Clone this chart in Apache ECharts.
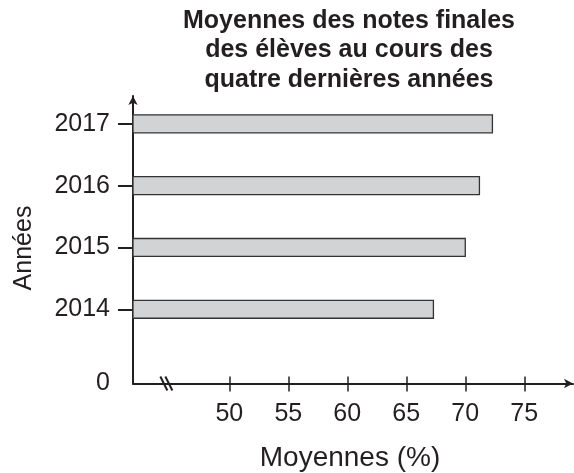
<!DOCTYPE html>
<html>
<head>
<meta charset="utf-8">
<script src="https://cdn.jsdelivr.net/npm/echarts@6/dist/echarts.min.js"></script>
<style>
  html, body { margin: 0; padding: 0; background: #fff; }
  #main { width: 574px; height: 473px; }
</style>
</head>
<body>
<div id="main"></div>
<script>
// données
var years = ['2014', '2015', '2016', '2017'];
var moyennes = [67.3, 70.0, 71.2, 72.3];
var xTicks = [50, 55, 60, 65, 70, 75];

var ink = '#231f20';
var font = 'Liberation Sans';
var xMin = 41.84, xMax = 79.13;
var yMax = 4.65;
// place de chaque année sur l'axe vertical (le 0 est un peu plus loin)
var yPos = years.map(function (y, i) { return i + 1.2; });

var chart = echarts.init(document.getElementById('main'));

var option = {
    backgroundColor: '#fff',
    animation: false,
    title: {
        text: 'Moyennes des notes finales\ndes élèves au cours des\nquatre dernières années',
        left: 344,
        textAlign: 'center',
        top: 1,
        textStyle: {
            fontFamily: font,
            fontWeight: 'bold',
            fontSize: 25,
            lineHeight: 29.5,
            color: ink
        }
    },
    grid: { left: 133, right: 1, top: 96, bottom: 89.5 },
    xAxis: [{
        type: 'value',
        position: 'bottom',
        min: xMin,
        max: xMax,
        splitLine: { show: false },
        axisLine: {
            lineStyle: { color: ink, width: 2 },
            symbol: ['none', 'arrow'],
            symbolSize: [7, 9]
        },
        axisTick: { customValues: xTicks, length: 8, lineStyle: { color: ink, width: 1.5 } },
        axisLabel: {
            customValues: xTicks,
            margin: 18,
            fontFamily: font,
            fontSize: 25,
            color: ink
        }
    }, {
        type: 'value',
        position: 'bottom',
        offset: 0,
        min: xMin,
        max: xMax,
        splitLine: { show: false },
        axisLine: { show: false },
        axisTick: { customValues: xTicks, inside: true, length: 7, lineStyle: { color: ink, width: 1.5 } },
        axisLabel: { show: false }
    }],
    yAxis: {
        type: 'value',
        min: 0,
        max: yMax,
        splitLine: { show: false },
        axisLine: {
            lineStyle: { color: ink, width: 2 },
            symbol: ['none', 'arrow'],
            symbolSize: [7, 9]
        },
        axisTick: { customValues: yPos, length: 15, lineStyle: { color: ink, width: 2 } },
        axisLabel: {
            customValues: [0].concat(yPos),
            margin: 23,
            padding: [0, 0, 4, 0],
            fontFamily: font,
            fontSize: 25,
            color: ink,
            formatter: function (v) {
                var i = yPos.indexOf(v);
                return i < 0 ? '0' : years[i];
            }
        }
    },
    series: [{
        type: 'custom',
        data: moyennes.map(function (m, i) { return [m, yPos[i]]; }),
        encode: { x: 0, y: 1 },
        renderItem: function (params, api) {
            var start = api.coord([xMin, api.value(1)]);
            var end = api.coord([api.value(0), api.value(1)]);
            var h = api.size([0, 0.29])[1];
            return {
                type: 'rect',
                shape: { x: start[0], y: start[1] - h / 2, width: end[0] - start[0], height: h },
                style: { fill: '#d2d3d5', stroke: '#333', lineWidth: 1.3 }
            };
        }
    }]
};
chart.setOption(option);

// coupure de l'axe horizontal et titres d'axes
var bx = chart.convertToPixel({ xAxisIndex: 0 }, 44.75);
var by = chart.convertToPixel({ yAxisIndex: 0 }, 0);
chart.setOption({
    graphic: [
        { type: 'rect', shape: { x: bx - 5, y: by - 3, width: 10, height: 6 }, style: { fill: '#fff' } },
        { type: 'line', shape: { x1: bx - 7, y1: by - 7, x2: bx, y2: by + 7 }, style: { stroke: ink, lineWidth: 2 } },
        { type: 'line', shape: { x1: bx - 2, y1: by - 7, x2: bx + 5, y2: by + 7 }, style: { stroke: ink, lineWidth: 2 } },
        {
            type: 'text', x: 24, y: 248, rotation: Math.PI / 2,
            style: { text: 'Années', fontFamily: font, fontSize: 25, fill: ink, align: 'center', verticalAlign: 'middle' }
        },
        {
            type: 'text', x: 350, y: 458,
            style: { text: 'Moyennes (%)', fontFamily: font, fontSize: 28, fill: ink, align: 'center', verticalAlign: 'middle' }
        }
    ]
});
</script>
</body>
</html>
